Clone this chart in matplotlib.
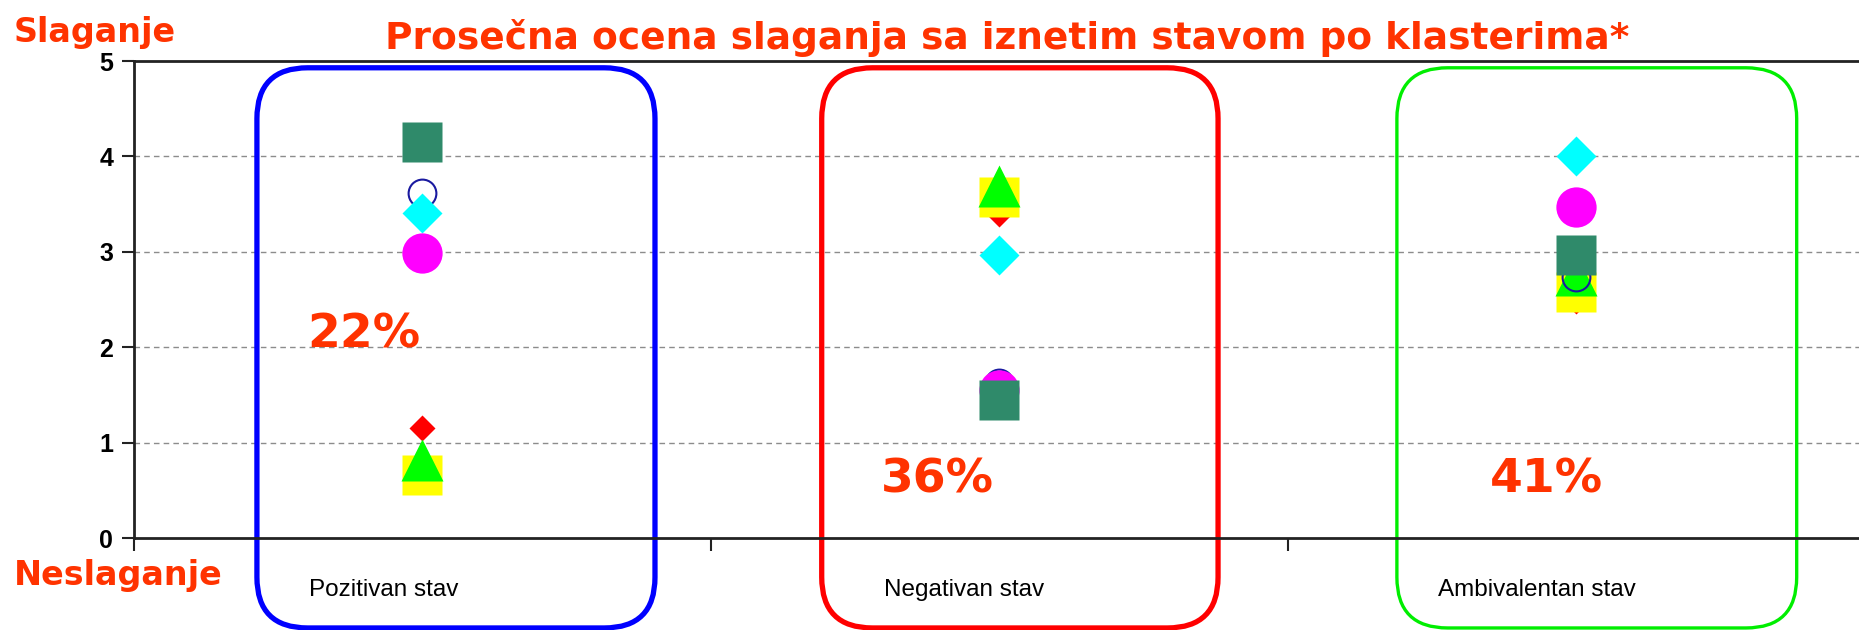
import matplotlib.pyplot as plt
from matplotlib.patches import FancyBboxPatch

# average agreement per cluster (scale 0-5)
categories = ['Pozitivan stav', 'Negativan stav', 'Ambivalentan stav']
shares = ['22%', '36%', '41%']
ticks_y = [0, 1, 2, 3, 4, 5]

red_vals = [1.15, 3.40, 2.49]
yellow_vals = [0.66, 3.58, 2.58]
green_vals = [0.82, 3.69, 2.76]
blue_vals = [3.62, 1.63, 2.74]
cyan_vals = [3.41, 2.97, 4.00]
magenta_vals = [2.99, 1.55, 3.47]
teal_vals = [4.15, 1.45, 2.97]

TXT_RED = '#FF3300'

fig = plt.figure(figsize=(18.59, 6.3), dpi=100)
ax = fig.add_axes([0.0721, 0.146, 0.9279, 0.757])

x = list(range(len(categories)))

# series order decides what sits on top where markers overlap
ax.plot(x, red_vals, 'D', ms=13, color='#FF0000', mec='none', zorder=3)
ax.plot(x, yellow_vals, 's', ms=29, color='#FFFF00', mec='none', zorder=4)
ax.plot(x, green_vals, '^', ms=30, color='#00FF00', mec='none', zorder=5)
ax.plot(x, blue_vals, 'o', ms=20, mfc='none', mec='#1A1AA0', mew=1.5, zorder=6)
ax.plot(x, cyan_vals, 'D', ms=20, color='#00FFFF', mec='none', zorder=7)
ax.plot(x, magenta_vals, 'o', ms=29, color='#FF00FF', mec='none', zorder=8)
ax.plot(x, teal_vals, 's', ms=29, color='#2F8A6A', mec='none', zorder=9)

ax.set_xlim(-0.5, 2.49)
ax.set_ylim(0, 5)
ax.set_yticks(ticks_y)
ax.set_yticklabels([str(t) for t in ticks_y], fontsize=18, fontweight='bold',
                   family='Liberation Sans')
ax.set_xticks([-0.5, 0.5, 1.5])
ax.set_xticklabels([])
ax.tick_params(axis='both', direction='out', length=9, width=1.5, color='#222222')
ax.tick_params(axis='y', pad=6)

for tick in [1, 2, 3, 4]:
    ax.axhline(tick, color='#8C8C8C', lw=1, ls=(0, (4, 3)), zorder=1)

ax.spines['right'].set_visible(False)
for side in ['left', 'bottom', 'top']:
    ax.spines[side].set_color('#222222')
    ax.spines[side].set_linewidth(2)

# rounded frames around each cluster
frames = [(-0.287, 0.403, '#0000FF', 3.8), (0.692, 1.379, '#FF0000', 3.8),
          (1.689, 2.382, '#00EE00', 2.4)]
y_lo, y_hi = -0.943, 4.93
for x0, x1, col, lw in frames:
    box = FancyBboxPatch((x0, y_lo), x1 - x0, y_hi - y_lo,
                         boxstyle='round,pad=0,rounding_size=0.088',
                         mutation_aspect=577 / 95.4, fc='none', ec=col, lw=lw,
                         clip_on=False, zorder=2)
    ax.add_patch(box)

share_pos = [(-0.101, 2.13), (0.893, 0.61), (1.949, 0.61)]
for (sx, sy), s in zip(share_pos, shares):
    ax.text(sx, sy, s, color=TXT_RED, fontsize=34, fontweight='bold',
            ha='center', va='center', zorder=10)

label_x = [-0.0675, 0.938, 1.932]
for lx, cat in zip(label_x, categories):
    ax.text(lx, -0.54, cat, fontsize=17.5, family='Liberation Sans',
            ha='center', va='center', clip_on=False)

fig.text(0.542, 0.94, 'Prosečna ocena slaganja sa iznetim stavom po klasterima*',
         color=TXT_RED, fontsize=27, fontweight='bold', ha='center', va='center')
fig.text(0.0075, 0.948, 'Slaganje', color=TXT_RED, fontsize=24, fontweight='bold',
         ha='left', va='center')
fig.text(0.0075, 0.087, 'Neslaganje', color=TXT_RED, fontsize=24, fontweight='bold',
         ha='left', va='center')

fig.savefig('out.png', dpi=100)
